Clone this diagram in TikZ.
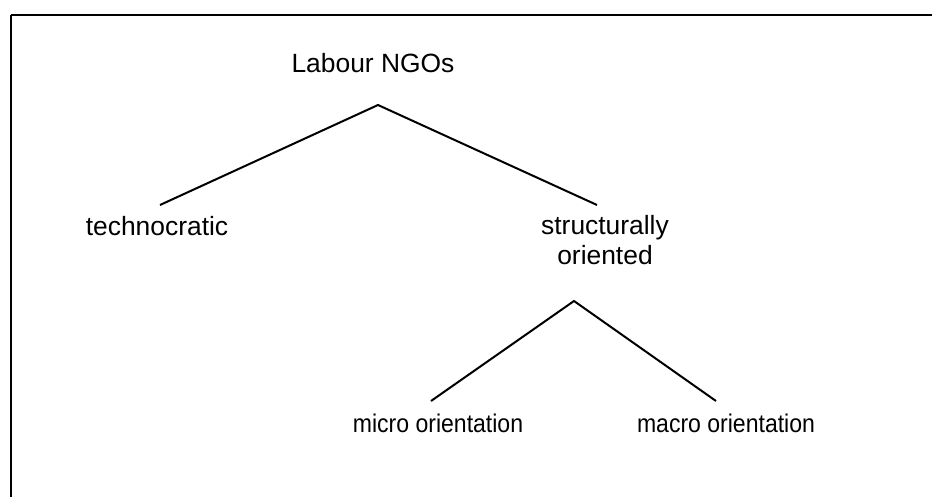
\documentclass[tikz,border=0pt]{standalone}
\usepackage{fontspec}
\setmainfont{Liberation Sans}
\begin{document}
\begin{tikzpicture}[x=0.5pt,y=-0.5pt,
    label/.style={inner sep=0pt,font=\fontsize{13.2}{15}\selectfont},
    sublabel/.style={inner sep=0pt,font=\fontsize{12.8}{14}\selectfont},
    branch/.style={line width=1pt}]
  \useasboundingbox (0,0) rectangle (932,497);
  % open frame
  \draw[line width=0.8pt] (11,497) -- (11,15);
  \draw[line width=1pt] (10.6,15) -- (932,15);
  % labels
  \node[label,anchor=base] (ngos) at (373,73) {Labour NGOs};
  \node[label,anchor=base] (tech) at (157,236) {technocratic};
  \node[label,align=center] (struct) at (605,240) {structurally\\oriented};
  \node[sublabel,anchor=base] (micro) at (438,432) {\scalebox{0.9}[1]{micro orientation}};
  \node[sublabel,anchor=base] (macro) at (726,432) {\scalebox{0.9}[1]{macro orientation}};
  % fork points
  \coordinate (ngosfork) at (378,105);
  \coordinate (techtip) at (160,205);
  \coordinate (structtip) at (597,205);
  \coordinate (structfork) at (574,301);
  \coordinate (microtip) at (431,401);
  \coordinate (macrotip) at (716,401);
  \draw[branch] (techtip) -- (ngosfork) -- (structtip);
  \draw[branch] (microtip) -- (structfork) -- (macrotip);
\end{tikzpicture}
\end{document}
